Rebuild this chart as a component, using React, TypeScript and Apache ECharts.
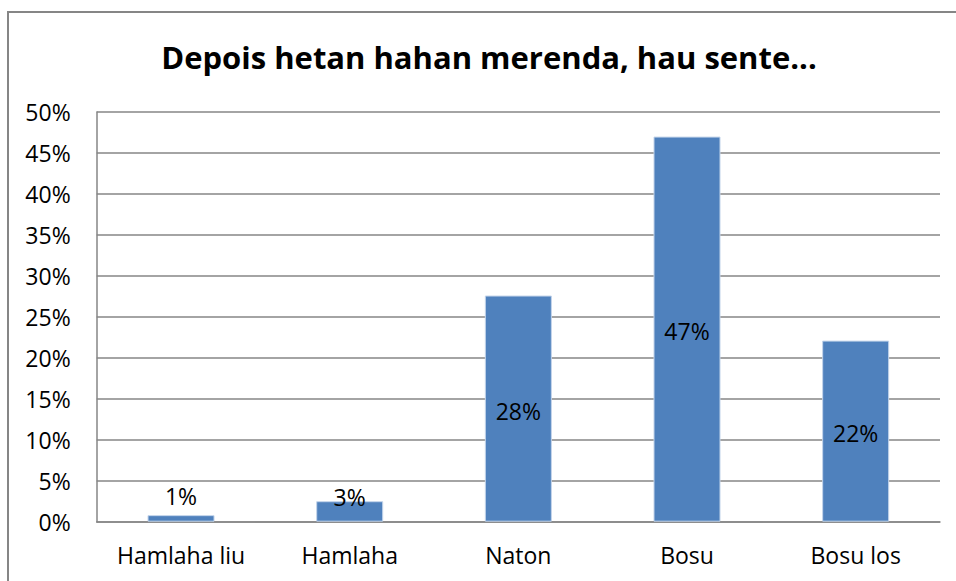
import React, { useEffect, useRef } from "react";
import * as echarts from "echarts";

const titleText = "Depois hetan hahan merenda, hau sente...";
const categories = ["Hamlaha liu", "Hamlaha", "Naton", "Bosu", "Bosu los"];
const values = [0.008, 0.025, 0.276, 0.47, 0.221];
const yMin = 0;
const yMax = 0.5;
const yInterval = 0.05;

const FONT = "'Open Sans', 'Noto Sans', sans-serif";
const GRAY = "#868686";

export default function App() {
  const ref = useRef<HTMLDivElement>(null);
  useEffect(() => {
    if (!ref.current) return;
    document.body.style.overflow = "hidden";
    const chart = echarts.init(ref.current, undefined, { renderer: "svg" });
    const labelFor = (i: number) => {
      if (i === 0) return { position: "top", distance: 8 };
      if (i === 1) return { position: "top", distance: -7 };
      return { position: "inside", offset: [0, 2] };
    };
    chart.setOption({
      animation: false,
      backgroundColor: "#ffffff",
      graphic: [
        {
          type: "rect",
          shape: { x: 8, y: 12, width: 960, height: 580 },
          style: { fill: "none", stroke: GRAY, lineWidth: 2 },
          z: 0,
        },
        {
          type: "text",
          x: 489,
          y: 57,
          style: {
            text: titleText,
            font: `bold 31px ${FONT}`,
            fill: "#000",
            align: "center",
            verticalAlign: "middle",
          },
        },
      ],
      grid: { left: 96.7, right: 16, top: 112, bottom: 59.3, containLabel: false },
      xAxis: {
        type: "category",
        data: categories,
        axisLine: { show: true, lineStyle: { color: GRAY, width: 1.5 } },
        axisTick: { show: false },
        axisLabel: { color: "#000", fontFamily: FONT, fontSize: 23, margin: 22 },
      },
      yAxis: {
        type: "value",
        min: yMin,
        max: yMax,
        interval: yInterval,
        axisLine: { show: true, lineStyle: { color: GRAY, width: 1.5 } },
        axisTick: { show: false },
        splitLine: { show: true, lineStyle: { color: GRAY, width: 1.5 } },
        axisLabel: {
          color: "#000",
          fontFamily: FONT,
          fontSize: 23,
          margin: 26,
          formatter: (v: number) => `${Math.round(v * 100)}%`,
        },
      },
      series: [
        {
          type: "bar",
          barWidth: 67,
          data: values.map((v, i) => ({ value: v, label: labelFor(i) })),
          itemStyle: { color: "#4F81BD", borderColor: "#c3d4ea", borderWidth: 1 },
          label: {
            show: true,
            color: "#000",
            fontFamily: FONT,
            fontSize: 23,
            formatter: (p: any) => `${Math.round(p.value * 100)}%`,
          },
        },
      ],
    });
    return () => chart.dispose();
  }, []);
  return (
    <div
      ref={ref}
      style={{ position: "fixed", left: 0, top: 0, width: 956, height: 581 }}
    />
  );
}
